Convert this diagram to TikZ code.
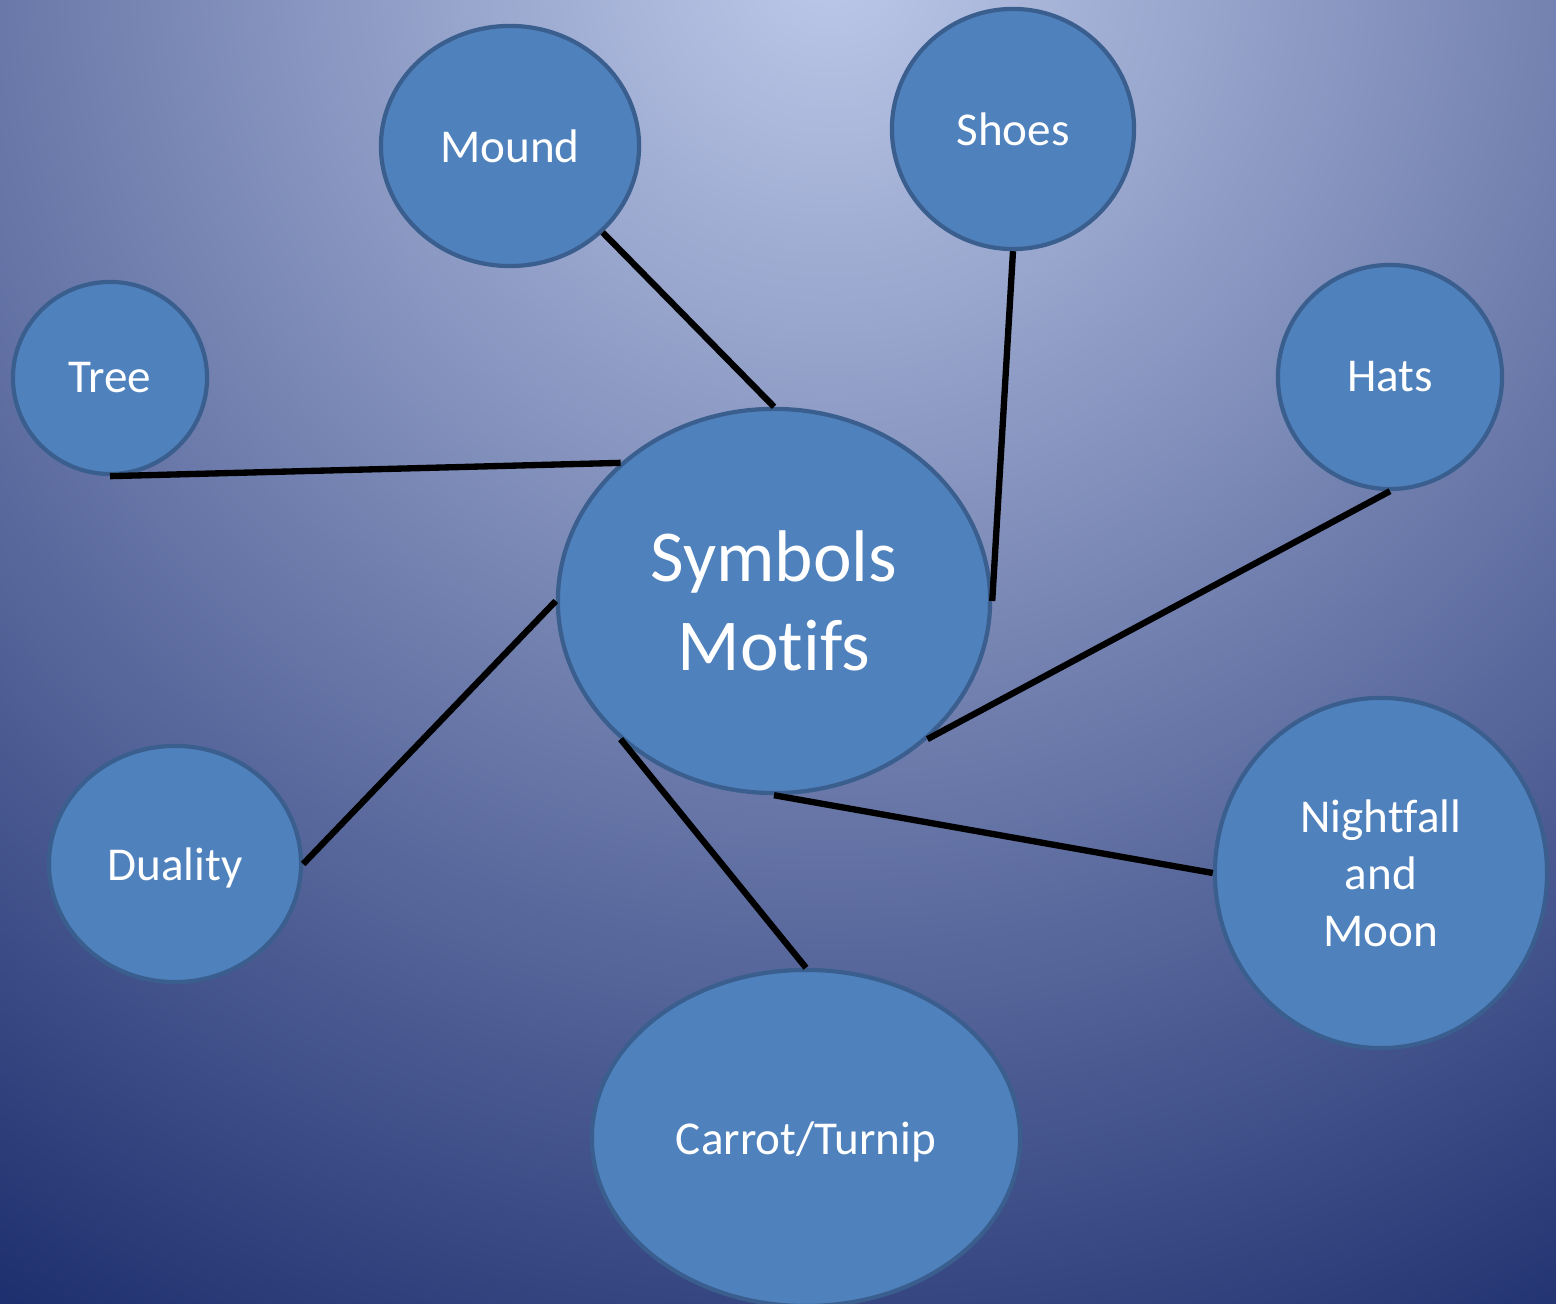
\documentclass[tikz,border=0pt]{standalone}
\usepackage{fontspec}
\setmainfont{Carlito}[Ligatures=NoCommon]
\usetikzlibrary{shapes.geometric}
\definecolor{bgtop}{HTML}{BDC9E9}
\definecolor{bgbot}{HTML}{18296A}
\definecolor{bubble}{HTML}{4F81BD}
\definecolor{rim}{HTML}{3A5F8E}

\begin{document}
\begin{tikzpicture}[x=0.01cm,y=-0.01cm,
    bubble/.style={ellipse,draw=rim,line width=1.2pt,fill=bubble,text=white,
      inner sep=0pt,align=center,font=\fontsize{13.4}{16.2}\selectfont},
    link/.style={line width=1.8pt,black}]
  \useasboundingbox (0,0) rectangle (1556,1304);
  \begin{scope}
    \clip (0,0) rectangle (1556,1304);
    \fill[bgbot] (0,0) rectangle (1556,1304);
    \shade[inner color=bgtop,outer color=bgbot] (830,-40) circle (1640);
  \end{scope}
  \node[bubble,minimum width=4.32cm,minimum height=3.84cm,
    font=\fontsize{20.8}{25.4}\selectfont] (sym) at (774,601) {Symbols\\Motifs};
  \node[bubble,minimum width=2.58cm,minimum height=2.40cm] (mound) at (510,146) {Mound};
  \node[bubble,minimum width=2.42cm,minimum height=2.40cm] (shoes) at (1013,129) {Shoes};
  \node[bubble,minimum width=1.94cm,minimum height=1.92cm] (tree) at (110,378) {Tree};
  \node[bubble,minimum width=2.24cm,minimum height=2.24cm] (hats) at (1390,377) {Hats};
  \node[bubble,minimum width=2.52cm,minimum height=2.36cm,text depth=0pt] (dual) at (175,864) {Duality};
  \node[bubble,minimum width=3.32cm,minimum height=3.50cm] (night) at (1381,873) {Nightfall\\and\\Moon};
  \node[bubble,minimum width=4.28cm,minimum height=3.36cm,text depth=0pt] (carrot) at (806,1138) {Carrot/Turnip};
  % connectors
  \draw[link] (mound.-43) -- (sym.north);
  \draw[link] (shoes.south) -- (sym.east);
  \draw[link] (tree.south) -- (sym.138);
  \draw[link] (hats.south) -- (sym.-42);
  \draw[link] (night.west) -- (sym.south);
  \draw[link] (carrot.north) -- (sym.-138);
  \draw[link] (dual.east) -- (sym.west);
\end{tikzpicture}
\end{document}
